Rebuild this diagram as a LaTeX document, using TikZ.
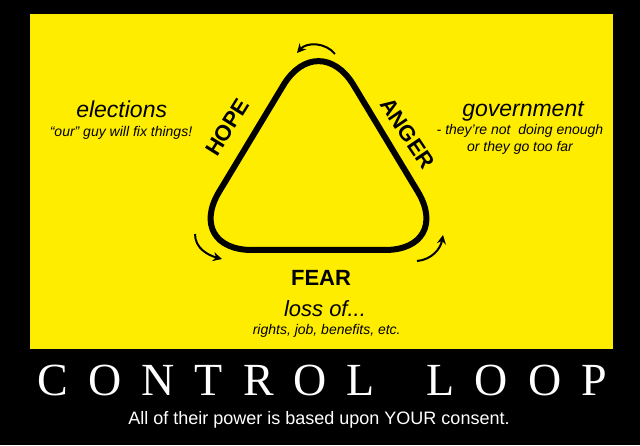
\documentclass[tikz,border=0pt]{standalone}
\usepackage{fontspec}
\setmainfont{Liberation Serif}
\setsansfont{Liberation Sans}
\usetikzlibrary{arrows.meta,positioning}
\definecolor{Poster}{HTML}{FFED00}

\begin{document}
\begin{tikzpicture}[x=1pt,y=1pt,
    heading/.style={font=\sffamily\itshape\fontsize{23}{27}\selectfont,inner sep=0pt},
    note/.style={font=\sffamily\itshape\fontsize{14}{17}\selectfont,inner sep=0pt},
    stage/.style={font=\sffamily\bfseries\fontsize{22}{26}\selectfont,inner sep=0pt},
    caption/.style={font=\rmfamily\fontsize{46}{50}\selectfont,text=white,inner sep=0pt},
    turn/.style={line width=2pt,-{Stealth[length=9pt,width=9pt]}}]
    \fill[black] (0,0) rectangle (640,445);
    \fill[Poster] (30,96) rectangle (613,431);
    % the loop
    \draw[line width=6pt,rounded corners=68pt] (318.5,195) -- (453,195) -- (318.5,418) -- (184,195) -- cycle;
    \node[stage,rotate=58] (hope) at (227.5,317.5) {HOPE};
    \node[stage,rotate=-56] (anger) at (407.5,311.7) {ANGER};
    \node[stage,anchor=base] (fear) at (321,160) {FEAR};
    % turning arrows
    \coordinate (topFrom) at (335,391);
    \coordinate (topTo) at (297,392);
    \coordinate (leftFrom) at (195,211);
    \coordinate (leftTo) at (222,186);
    \coordinate (rightFrom) at (417,184);
    \coordinate (rightTo) at (443,210);
    \draw[turn] (topFrom) to[bend right=50] (topTo);
    \draw[turn] (leftFrom) to[out=-90,in=165] (leftTo);
    \draw[turn] (rightFrom) to[out=5,in=-100] (rightTo);
    % side texts
    \node[heading,anchor=base] (elections) at (121.7,327) {elections};
    \node[note,anchor=base] (electionsNote) at (121,308.3) {“our” guy will fix things!};
    \node[heading,anchor=base] (government) at (523,328) {government};
    \node[note,anchor=base] (govNoteA) at (520,310) {- they’re not\ \ doing enough};
    \node[note,anchor=base] (govNoteB) at ([yshift=-16.7pt]govNoteA.base) {or they go too far};
    \node[heading,anchor=base,font=\sffamily\itshape\fontsize{22}{26}\selectfont] (loss) at (325,128.3) {loss of...};
    \node[note,anchor=base] (lossNote) at (326.7,111) {rights, job, benefits, etc.};
    % title
    \foreach \ch/\cx [count=\i] in {C/53,O/105,N/158,T/209,R/259,O/310,L/361,L/441,O/491,O/545,P/594}
      \node[caption,anchor=base] (title\i) at (\cx,50) {\ch};
    \node[font=\sffamily\fontsize{18}{21}\selectfont,text=white,anchor=base] (tagline) at (319,21) {All of their power is based upon YOUR consent.};
  \end{tikzpicture}
\end{document}
